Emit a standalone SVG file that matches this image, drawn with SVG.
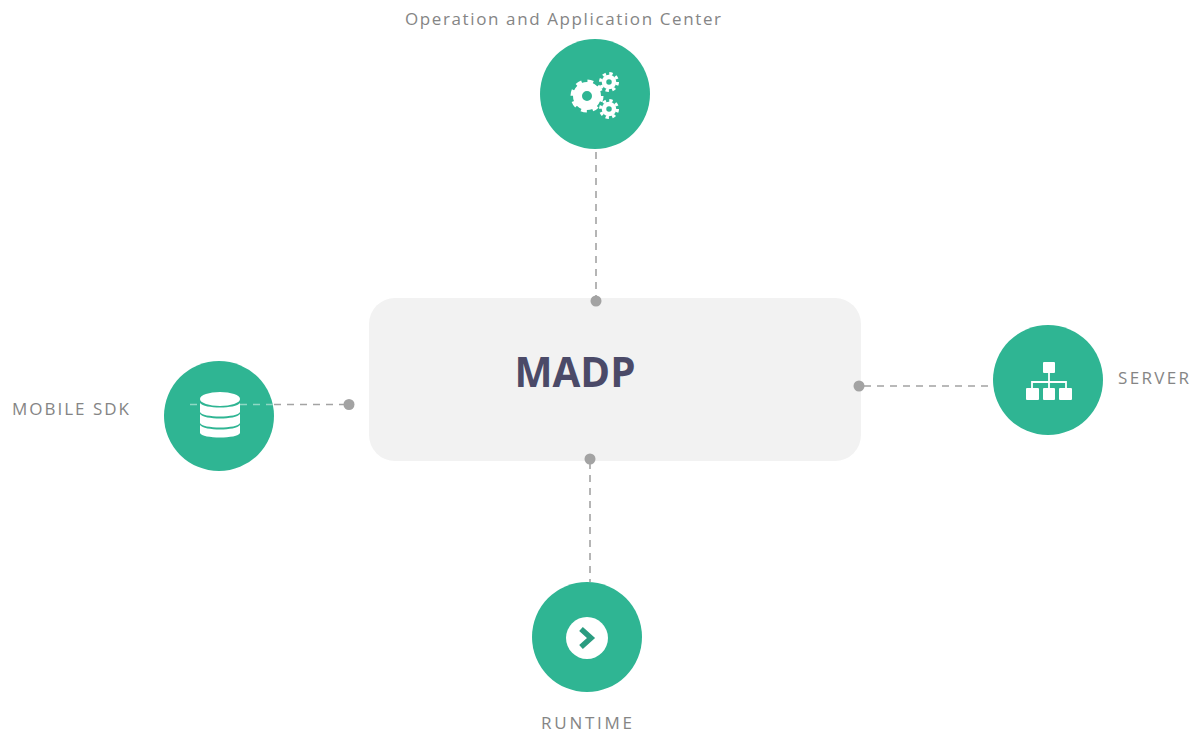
<svg xmlns="http://www.w3.org/2000/svg" width="1195" height="732" viewBox="0 0 1195 732">
<style>
text{font-family:"Open Sans","Liberation Sans",sans-serif}
.lbl{font-size:17px;fill:#858585}
.disc{fill:#2fb593}
.ico{fill:#fff}
.line{fill:none;stroke:#a3a3a3;stroke-width:1.6;stroke-dasharray:7 6}
.dot{fill:#a3a3a3}
.ring{fill:none;stroke:#fff}
</style>
<rect width="1195" height="732" fill="#fff"/>
<g id="madp">
<rect x="369" y="298" width="492" height="163" rx="26" fill="#f2f2f2"/>
<text x="575" y="387" text-anchor="middle" font-size="42" font-weight="700" textLength="121" lengthAdjust="spacingAndGlyphs" fill="#4b4a68">MADP</text>
</g>
<g id="operation-center">
<circle class="disc" cx="595" cy="94" r="55"/>
<g>
<circle class="ring" cx="587" cy="96" r="9.500" stroke-width="9"/>
<circle class="ring" cx="587" cy="96" r="14.500" stroke-width="4" stroke-dasharray="5.700 5.690"/>
<circle class="ring" cx="609" cy="82" r="5" stroke-width="4.500"/>
<circle class="ring" cx="609" cy="82" r="8.500" stroke-width="3" stroke-dasharray="3.340 3.340"/>
<circle class="ring" cx="609" cy="109" r="5" stroke-width="4.500"/>
<circle class="ring" cx="609" cy="109" r="8.500" stroke-width="3" stroke-dasharray="3.340 3.340"/>
</g>
<text class="lbl" x="405" y="25" textLength="316">Operation and Application Center</text>
</g>
<g id="mobile-sdk">
<circle class="disc" cx="219" cy="416" r="55"/>
<ellipse class="ico" cx="220" cy="399" rx="20" ry="7"/>
<path class="ico" d="M200 403c4 6 36 6 40 0v9c-2 6-38 6-40 0z"/>
<path class="ico" d="M200 414c4 6 36 6 40 0v9c-2 6-38 6-40 0z"/>
<path class="ico" d="M200 425c4 6 36 6 40 0v8c-2 6-38 6-40 0z"/>
<text class="lbl" x="12" y="415" textLength="117">MOBILE SDK</text>
</g>
<g id="server">
<circle class="disc" cx="1048" cy="380" r="55"/>
<rect class="ico" x="1043" y="362" width="12" height="11" rx="1"/>
<path class="ring" stroke-width="1.800" d="M1049 373v16M1032 389v-7h34v7"/>
<rect class="ico" x="1026" y="388" width="13" height="12" rx="1"/>
<rect class="ico" x="1043" y="388" width="12" height="12" rx="1"/>
<rect class="ico" x="1059" y="388" width="13" height="12" rx="1"/>
<text class="lbl" x="1118" y="384" textLength="71">SERVER</text>
</g>
<g id="runtime">
<circle class="disc" cx="587" cy="637" r="55"/>
<circle class="ico" cx="587" cy="638" r="21"/>
<path d="M581 629l10 9-10 9" fill="none" stroke="#2a9c80" stroke-width="5.500"/>
<text class="lbl" x="541" y="729" textLength="91">RUNTIME</text>
</g>
<g id="connectors">
<path class="line" d="M596 152V300"/>
<circle class="dot" cx="596" cy="301" r="5.500"/>
<path class="line" d="M274 404.500H345"/>
<path d="M190 404.500H200M240 404.500H274" fill="none" stroke="#8fd8c4" stroke-width="1.500" stroke-dasharray="7 6"/>
<circle class="dot" cx="349" cy="404.500" r="5.500"/>
<path class="line" d="M864 386H994"/>
<circle class="dot" cx="859" cy="386" r="5.500"/>
<path class="line" d="M590 462V582"/>
<circle class="dot" cx="590" cy="459" r="5.500"/>
</g>
</svg>
